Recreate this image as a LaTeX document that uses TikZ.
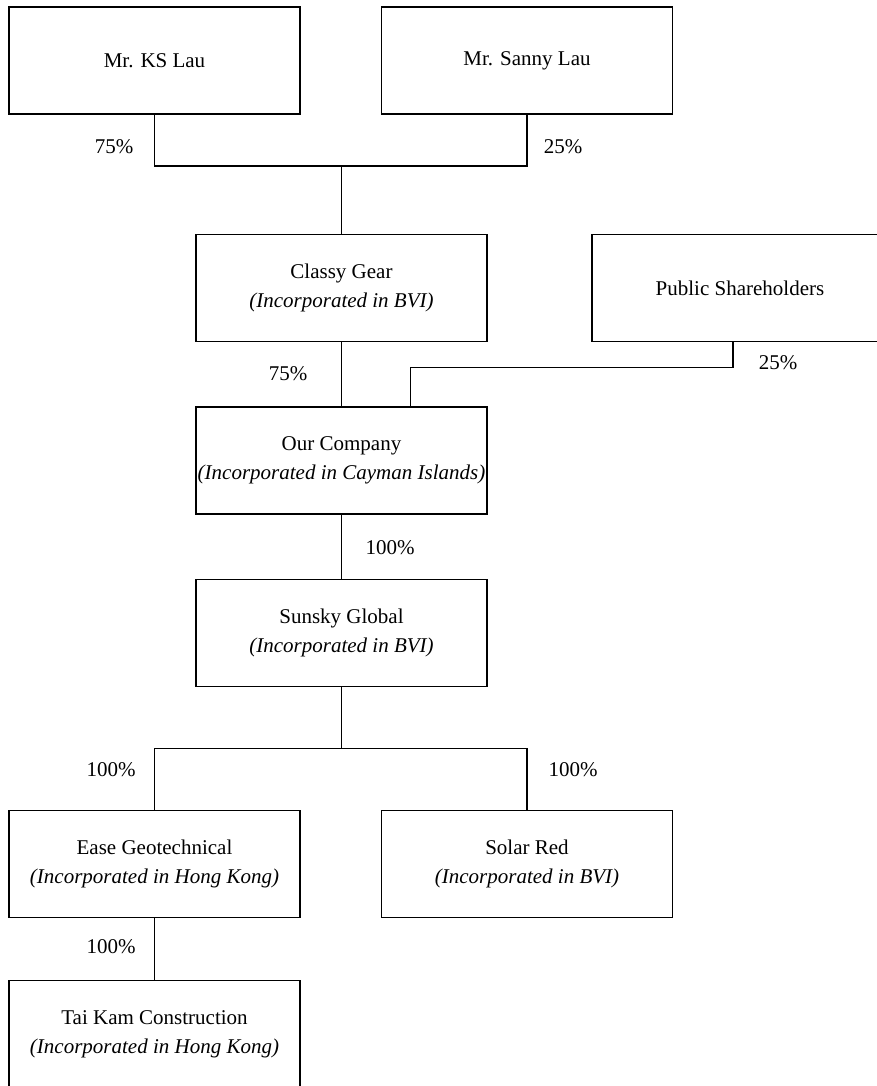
\documentclass[tikz,border=0pt]{standalone}
\usepackage{fontspec}
\setmainfont{Liberation Serif}
\usepackage{tikz}
\usetikzlibrary{positioning,calc}

\begin{document}
\begin{tikzpicture}[x=0.5pt,y=-0.5pt,
  entity/.style={draw, line width=0.8pt, minimum width=145.5pt, minimum height=53.5pt,
    inner sep=0pt, align=center, font=\fontsize{10.5}{14.5}\selectfont},
  pct/.style={inner sep=0pt, font=\fontsize{10.5}{12}\selectfont},
  link/.style={line width=0.8pt}]
\clip (0,0) rectangle (877,1086);
\fill[white] (0,0) rectangle (877,1086);

% shareholders
\node[entity] (kslau) at (154.5,60.5) {Mr. KS Lau};
\node[entity] (sannylau) at (527,60.5) {Mr. Sanny Lau};
\node[entity] (classy) at (341.5,288) {Classy Gear\\\textit{(Incorporated in BVI)}};
\node[entity, minimum width=148pt] (public) at (740,288) {Public Shareholders};

% group
\node[entity] (ourco) at (341.5,460.5) {Our Company\\\textit{(Incorporated in Cayman Islands)}};
\node[entity] (sunsky) at (341.5,633) {Sunsky Global\\\textit{(Incorporated in BVI)}};
\node[entity] (ease) at (154.5,864) {Ease Geotechnical\\\textit{(Incorporated in Hong Kong)}};
\node[entity] (solar) at (527,864) {Solar Red\\\textit{(Incorporated in BVI)}};
\node[entity] (taikam) at (154.5,1034) {Tai Kam Construction\\\textit{(Incorporated in Hong Kong)}};

\coordinate (ownbar) at (341.5,166);
\draw[link] (kslau.south) |- (ownbar) -| (sannylau.south);
\draw[link] (ownbar) -- (classy.north);
\draw[link] (classy.south) -- (ourco.north);
\draw[link] ([xshift=-3.5pt]public.south) -- ++(0,25) -| ([xshift=34.5pt]ourco.north);
\draw[link] (ourco.south) -- (sunsky.north);
\draw[link] (sunsky.south) -- ++(0,61) coordinate (subbar);
\draw[link] (ease.north) |- (subbar) -| (solar.north);
\draw[link] (ease.south) -- (taikam.north);

\node[pct] (pks) at (114,147) {75\%};
\node[pct] (psanny) at (563,147) {25\%};
\node[pct] (pclassy) at (288,374) {75\%};
\node[pct] (ppublic) at (778,363) {25\%};
\node[pct] (pourco) at (390,548) {100\%};
\node[pct] (pease) at (111,770) {100\%};
\node[pct] (psolar) at (573,770) {100\%};
\node[pct] (ptaikam) at (111,947) {100\%};
\end{tikzpicture}
\end{document}
